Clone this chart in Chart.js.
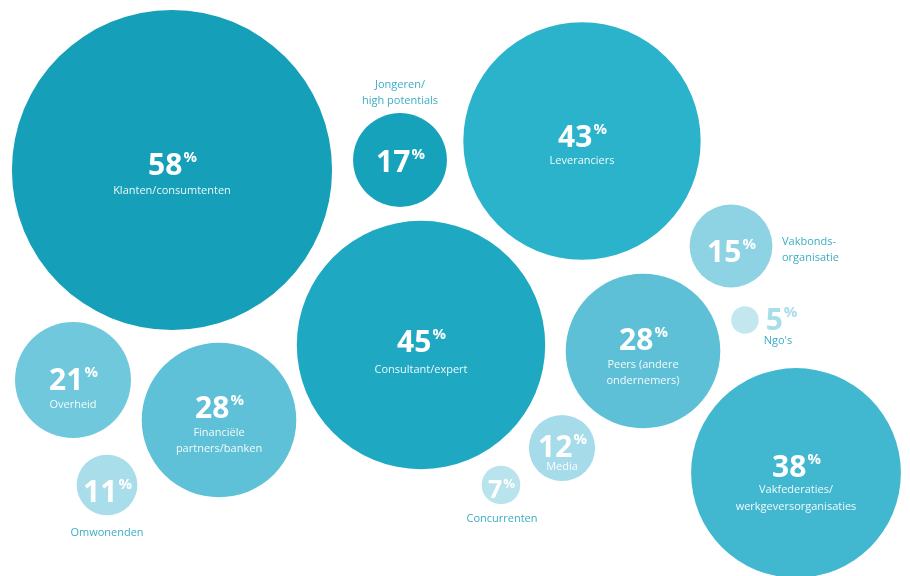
<!DOCTYPE html>
<html>
<head>
<meta charset="utf-8">
<script src="https://cdn.jsdelivr.net/npm/chart.js@4/dist/chart.umd.min.js"></script>
<style>
  html, body { margin: 0; padding: 0; background: #fff; }
  #wrap { width: 910px; height: 576px; }
</style>
</head>
<body>
<div id="wrap"><canvas id="bubbleChart" width="910" height="576"></canvas></div>
<script>
// data
const categories = ['Klanten/consumtenten', 'Jongeren/high potentials', 'Leveranciers', 'Vakbonds-organisatie',
    'Consultant/expert', 'Overheid', 'Financiële partners/banken', 'Omwonenden', 'Peers (andere ondernemers)',
    "Ngo's", 'Media', 'Concurrenten', 'Vakfederaties/werkgeversorganisaties'];
const values = [58, 17, 43, 15, 45, 21, 28, 11, 28, 5, 12, 7, 38];

// layout of the packed bubbles (canvas units)
const posX = [172, 400, 582, 731, 421, 73, 219, 107, 643, 745, 562, 501, 796];
const posY = [170, 160, 141, 246, 345, 380, 420, 485, 351, 320, 448, 485, 473];
const colors = ['#159fb8', '#17a2bb', '#2bb3cb', '#8dd3e3', '#1fa8c2', '#70c8dc', '#5fc1d7', '#a8dde9',
    '#5dc0d6', '#c3e7ef', '#a6dce9', '#b9e3ed', '#42b8d0'];
const radiusPerPoint = 2.76;

// label placement relative to each bubble centre
const labelLayout = [
    { num: [0, 5], lines: [['Klanten/consumtenten', 0, 21]] },
    { num: [0, 12], lines: [['Jongeren/', 0, -75], ['high potentials', 0, -59]], out: true },
    { num: [0, 6], lines: [['Leveranciers', 0, 20]] },
    { num: [0, 16], lines: [['Vakbonds-', 51, -4], ['organisatie', 51, 12]], out: true, align: 'left' },
    { num: [0, 7], lines: [['Consultant/expert', 0, 25]] },
    { num: [0, 10], lines: [['Overheid', 0, 25]] },
    { num: [0, -2], lines: [['Financiële', 0, 13], ['partners/banken', 0, 29]] },
    { num: [0, 17], lines: [['Omwonenden', 0, 48]], out: true },
    { num: [0, -1], lines: [['Peers (andere', 0, 14], ['ondernemers)', 0, 30]] },
    { num: [36, 10], numColor: '#a9dde9', lines: [["Ngo's", 33, 21]], out: true },
    { num: [0, 9], lines: [['Media', 0, 19]] },
    { num: [0, 13], size: 25, lines: [['Concurrenten', 1, 34]], out: true },
    { num: [0, 4], lines: [['Vakfederaties/', 0, 17], ['werkgeversorganisaties', 0, 34]] }
];

const outColor = '#3badc5';

const bubbleLabels = {
    id: 'bubbleLabels',
    afterDatasetsDraw(chart) {
        const ctx = chart.ctx;
        const meta = chart.getDatasetMeta(0);
        meta.data.forEach((el, i) => {
            const lay = labelLayout[i];
            const size = lay.size || 30;
            const cx = el.x + lay.num[0];
            const base = el.y + lay.num[1];
            ctx.save();
            // number + superscript percent
            ctx.fillStyle = lay.numColor || '#ffffff';
            ctx.textBaseline = 'alphabetic';
            ctx.textAlign = 'left';
            ctx.font = 'bold ' + size + 'px "Open Sans", sans-serif';
            const numTxt = String(values[i]);
            const wNum = ctx.measureText(numTxt).width;
            const pctSize = Math.round(size * 0.5);
            ctx.font = 'bold ' + pctSize + 'px "Open Sans", sans-serif';
            const wPct = ctx.measureText('%').width;
            const left = cx - (wNum + wPct) / 2;
            ctx.font = 'bold ' + size + 'px "Open Sans", sans-serif';
            ctx.fillText(numTxt, left, base);
            ctx.font = 'bold ' + pctSize + 'px "Open Sans", sans-serif';
            ctx.fillText('%', left + wNum + 1, base - size * 0.42);
            // category text
            ctx.font = '11px "Open Sans", sans-serif';
            ctx.textBaseline = 'middle';
            ctx.textAlign = lay.align || 'center';
            ctx.fillStyle = lay.out ? outColor : 'rgba(255,255,255,0.92)';
            lay.lines.forEach(l => {
                ctx.fillText(l[0], el.x + l[1], el.y + l[2]);
            });
            ctx.restore();
        });
    }
};

let bubbleData = values.map((v, i) => ({ x: posX[i], y: posY[i], r: v * radiusPerPoint }));

new Chart(document.getElementById('bubbleChart').getContext('2d'), {
    type: 'bubble',
    data: {
        labels: categories,
        datasets: [{
            label: 'Stakeholders',
            data: bubbleData,
            backgroundColor: colors,
            hoverBackgroundColor: colors,
            borderWidth: 0,
            hoverBorderWidth: 0,
            clip: false
        }]
    },
    options: {
        responsive: false,
        animation: false,
        layout: { padding: 0, autoPadding: false },
        plugins: {
            legend: { display: false },
            tooltip: { enabled: false }
        },
        scales: {
            x: { type: 'linear', min: 0, max: 910, display: false },
            y: { type: 'linear', min: 0, max: 576, reverse: true, display: false }
        }
    },
    plugins: [bubbleLabels]
});
</script>
</body>
</html>
